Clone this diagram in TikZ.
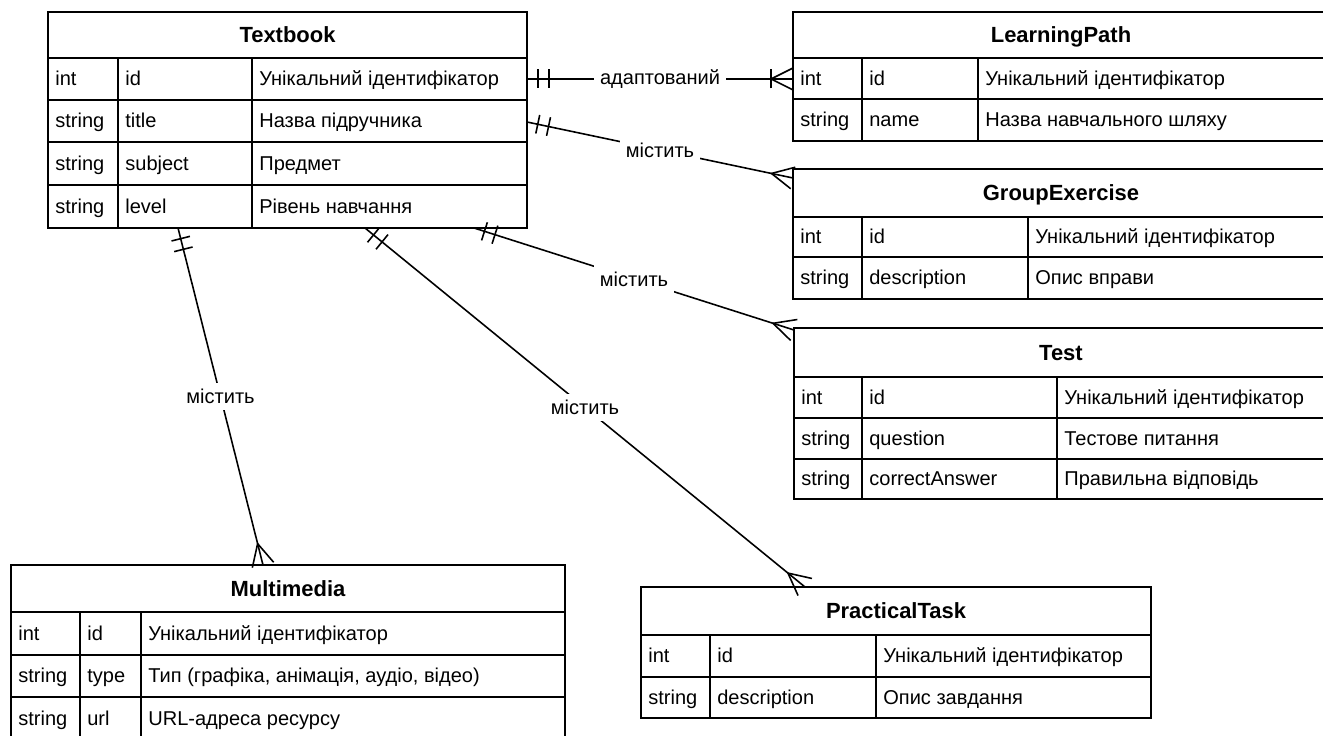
\documentclass[tikz,border=0pt]{standalone}
\usepackage{fontspec}
\setmainfont{Liberation Sans}
\usetikzlibrary{calc}

% marks of the relations
\newcommand{\mandmark}[2]{% two bars near #1 on the line #1 -- #2
  \foreach \dist in {0.22cm,0.44cm}{
    \path ($(#1)!\dist!(#2)$) coordinate (mk);
    \draw[rel] ($(mk)!0.19cm!90:(#2)$) -- ($(mk)!0.19cm!-90:(#2)$);
  }}
\newcommand{\crowmark}[2]{% crow's foot at #2 on the line #1 -- #2
  \path ($(#2)!0.44cm!(#1)$) coordinate (ck);
  \draw[rel] ($(#2)!0.22cm!90:(#1)$) -- (ck) -- ($(#2)!0.22cm!-90:(#1)$);}

\tikzset{
  tbl/.style={line width=1.1pt},
  rel/.style={line width=0.9pt},
  hdr/.style={font=\fontsize{12.5}{15}\selectfont\bfseries, inner sep=0pt, anchor=base},
  cell/.style={font=\fontsize{11.4}{13.7}\selectfont, inner sep=0pt, anchor=base west},
  lbl/.style={font=\fontsize{11.4}{13.7}\selectfont, fill=white, inner sep=3.5pt},
}

\begin{document}
\begin{tikzpicture}[x=0.02cm,y=-0.02cm]
    \useasboundingbox (0,0) rectangle (1323,736);
    \fill[white] (0,0) rectangle (1323,736);
    \clip (0,0) rectangle (1323,736);

    % Textbook
    \draw[tbl] (48,12) rectangle (527,228);
    \foreach \y in {58,100,142,185} \draw[tbl] (48,\y) -- (527,\y);
    \foreach \x in {118,252} \draw[tbl] (\x,58) -- (\x,228);
    \node[hdr] (textbook) at (287.5,43) {Textbook};
    \foreach \y/\ty/\fn/\ds [count=\i] in {86/int/id/Унікальний ідентифікатор,
        128/string/title/Назва підручника, 170.5/string/subject/Предмет,
        213.5/string/level/Рівень навчання}{
      \node[cell] (tb-t\i) at (55,\y) {\ty};
      \node[cell] (tb-f\i) at (125,\y) {\fn};
      \node[cell] (tb-d\i) at (259,\y) {\ds};
    }

    % LearningPath
    \draw[tbl] (793,12) rectangle (1329,141);
    \foreach \y in {58,99} \draw[tbl] (793,\y) -- (1329,\y);
    \foreach \x in {862,978} \draw[tbl] (\x,58) -- (\x,141);
    \node[hdr] (learningpath) at (1061,43) {LearningPath};
    \foreach \y/\ty/\fn/\ds [count=\i] in {85.5/int/id/Унікальний ідентифікатор,
        127/string/name/Назва навчального шляху}{
      \node[cell] (lp-t\i) at (800,\y) {\ty};
      \node[cell] (lp-f\i) at (869,\y) {\fn};
      \node[cell] (lp-d\i) at (985,\y) {\ds};
    }

    % GroupExercise
    \draw[tbl] (793,169) rectangle (1329,299);
    \foreach \y in {217,257} \draw[tbl] (793,\y) -- (1329,\y);
    \foreach \x in {862,1028} \draw[tbl] (\x,217) -- (\x,299);
    \node[hdr] (groupexercise) at (1061,201) {GroupExercise};
    \foreach \y/\ty/\fn/\ds [count=\i] in {244/int/id/Унікальний ідентифікатор,
        285/string/description/Опис вправи}{
      \node[cell] (ge-t\i) at (800,\y) {\ty};
      \node[cell] (ge-f\i) at (869,\y) {\fn};
      \node[cell] (ge-d\i) at (1035,\y) {\ds};
    }

    % Test
    \draw[tbl] (794,328) rectangle (1329,499);
    \foreach \y in {377,418,459} \draw[tbl] (794,\y) -- (1329,\y);
    \foreach \x in {862,1057} \draw[tbl] (\x,377) -- (\x,499);
    \node[hdr] (test) at (1061,360.5) {Test};
    \foreach \y/\ty/\fn/\ds [count=\i] in {404.5/int/id/Унікальний ідентифікатор,
        445.5/string/question/Тестове питання,
        486/string/correctAnswer/Правильна відповідь}{
      \node[cell] (ts-t\i) at (801,\y) {\ty};
      \node[cell] (ts-f\i) at (869,\y) {\fn};
      \node[cell] (ts-d\i) at (1064,\y) {\ds};
    }

    % PracticalTask
    \draw[tbl] (641,587) rectangle (1151,718);
    \foreach \y in {635,677} \draw[tbl] (641,\y) -- (1151,\y);
    \foreach \x in {710,876} \draw[tbl] (\x,635) -- (\x,718);
    \node[hdr] (practicaltask) at (896,619) {PracticalTask};
    \foreach \y/\ty/\fn/\ds [count=\i] in {663/int/id/Унікальний ідентифікатор,
        704.5/string/description/Опис завдання}{
      \node[cell] (pt-t\i) at (648,\y) {\ty};
      \node[cell] (pt-f\i) at (717,\y) {\fn};
      \node[cell] (pt-d\i) at (883,\y) {\ds};
    }

    % Multimedia
    \draw[tbl] (11,565) rectangle (565,740);
    \foreach \y in {612,655,697} \draw[tbl] (11,\y) -- (565,\y);
    \foreach \x in {80,141} \draw[tbl] (\x,612) -- (\x,740);
    \node[hdr] (multimedia) at (288,596.5) {Multimedia};
    \foreach \y/\ty/\fn/\ds [count=\i] in {640.5/int/id/Унікальний ідентифікатор,
        683/string/type/{Тип (графіка, анімація, аудіо, відео)},
        725/string/url/URL-адреса ресурсу}{
      \node[cell] (mm-t\i) at (18,\y) {\ty};
      \node[cell] (mm-f\i) at (87,\y) {\fn};
      \node[cell] (mm-d\i) at (148,\y) {\ds};
    }

    % Ends of the relations
    \coordinate (tb-lp) at (527,79);
    \coordinate (lp-tb) at (793,79);
    \coordinate (tb-ge) at (527,122);
    \coordinate (ge-tb) at (793,178);
    \coordinate (tb-ts) at (474,228);
    \coordinate (ts-tb) at (794,330);
    \coordinate (tb-pt) at (365,228);
    \coordinate (pt-tb) at (805,587);
    \coordinate (tb-mm) at (178,228);
    \coordinate (mm-tb) at (263,565);

    % Relations
    \draw[rel] (tb-lp) -- node[lbl] (r-lp) {адаптований} (lp-tb);
    \mandmark{tb-lp}{lp-tb}
    \crowmark{tb-lp}{lp-tb}
    \path ($(lp-tb)!0.44cm!(tb-lp)$) coordinate (bk);
    \draw[rel] ($(bk)!0.19cm!90:(tb-lp)$) -- ($(bk)!0.19cm!-90:(tb-lp)$);

    \draw[rel] (tb-ge) -- node[lbl] (r-ge) {містить} (ge-tb);
    \mandmark{tb-ge}{ge-tb}
    \crowmark{tb-ge}{ge-tb}

    \draw[rel] (tb-ts) -- node[lbl] (r-ts) {містить} (ts-tb);
    \mandmark{tb-ts}{ts-tb}
    \crowmark{tb-ts}{ts-tb}

    \draw[rel] (tb-pt) -- node[lbl] (r-pt) {містить} (pt-tb);
    \mandmark{tb-pt}{pt-tb}
    \crowmark{tb-pt}{pt-tb}

    \draw[rel] (tb-mm) -- node[lbl] (r-mm) {містить} (mm-tb);
    \mandmark{tb-mm}{mm-tb}
    \crowmark{tb-mm}{mm-tb}
\end{tikzpicture}
\end{document}
